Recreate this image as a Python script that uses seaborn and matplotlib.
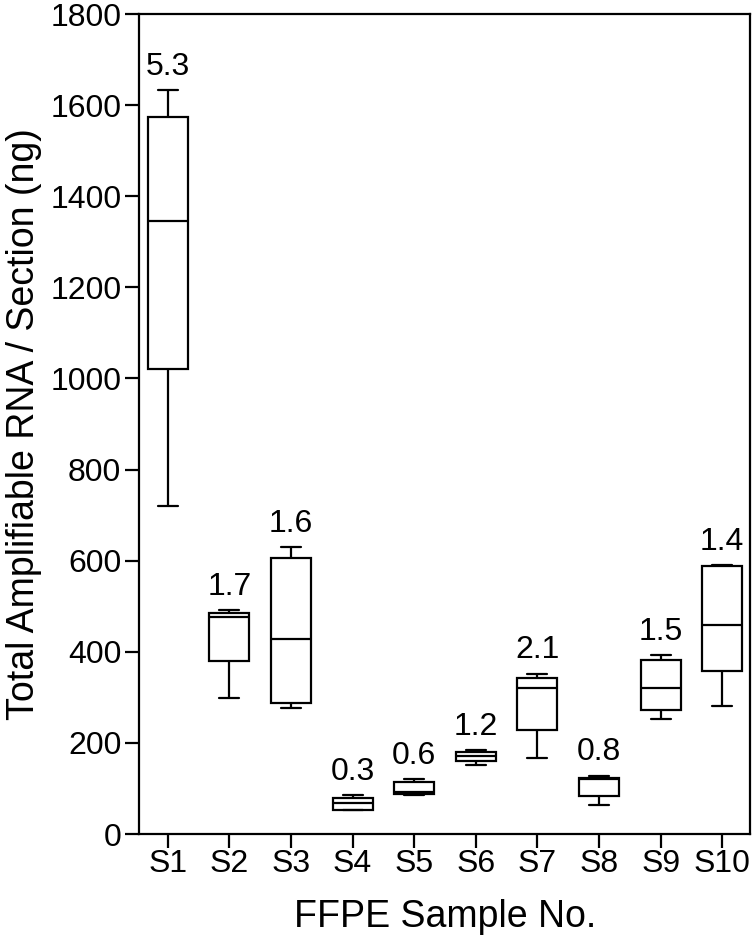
import pandas as pd
import numpy as np
import matplotlib
matplotlib.use("Agg")
import matplotlib.pyplot as plt
import seaborn as sns

# =========================================================
# DATA (five-number summaries)
# =========================================================

samples = ["S1", "S2", "S3", "S4", "S5", "S6", "S7", "S8", "S9", "S10"]

low = [720, 298, 277, 52, 86, 151, 166, 63, 253, 281]
q1 = [1020, 380, 287, 53, 88, 160, 228, 83, 272, 358]
median = [1346, 477, 427, 67, 92, 171, 320, 120, 321, 458]
q3 = [1573, 486, 605, 79, 115, 180, 343, 124, 382, 588]
high = [1633, 492, 629, 85, 121, 184, 352, 128, 393, 590]

fold_labels = ["5.3", "1.7", "1.6", "0.3", "0.6", "1.2", "2.1", "0.8", "1.5", "1.4"]

# long table: one row per summary value
rows = []
for i, s in enumerate(samples):
    for v in (low[i], q1[i], median[i], q3[i], high[i]):
        rows.append({"sample": s, "rna": v})
df = pd.DataFrame(rows)

# =========================================================
# FIGURE
# =========================================================

sns.set_style("ticks")
plt.rcParams["font.family"] = ["Liberation Sans", "DejaVu Sans"]
plt.rcParams["text.color"] = "black"
plt.rcParams["axes.labelcolor"] = "black"

fig = plt.figure(figsize=(7.54, 9.41), dpi=100)
ax = fig.add_axes([0.1849, 0.1137, 0.8098, 0.8714])

sns.boxplot(
    data=df,
    x="sample",
    y="rna",
    order=samples,
    whis=(0, 100),
    width=0.65,
    color="white",
    linecolor="black",
    linewidth=1.6,
    ax=ax,
)

for i, lab in enumerate(fold_labels):
    ax.annotate(
        lab,
        xy=(i, high[i]),
        xytext=(0, 6),
        textcoords="offset points",
        ha="center",
        va="bottom",
        fontsize=23,
        color="black",
    )

ax.set_ylim(0, 1800)
ax.set_xlim(-0.46, 9.45)
ax.set_yticks(np.arange(0, 1801, 200))

ax.set_xlabel("FFPE Sample No.", fontsize=27, labelpad=14)
ax.set_ylabel("Total Amplifiable RNA / Section (ng)", fontsize=27)
ax.yaxis.set_label_coords(-0.16, 0.5)

ax.tick_params(axis="both", labelsize=23, length=10, width=1.6, direction="out", colors="black")
ax.tick_params(axis="x", pad=1)
ax.tick_params(axis="y", pad=3)

for sp in ax.spines.values():
    sp.set_visible(True)
    sp.set_linewidth(1.6)
    sp.set_color("black")

fig.savefig("out.png", dpi=100)
